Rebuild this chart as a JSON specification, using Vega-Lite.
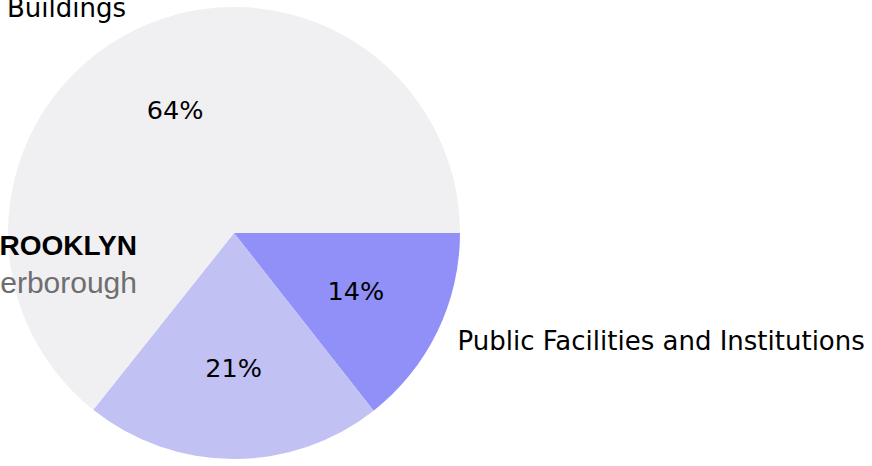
{
  "$schema": "https://vega.github.io/schema/vega-lite/v6.json",
  "width": 468,
  "height": 466,
  "autosize": {"type": "none"},
  "padding": {"left": 0, "top": 0, "right": 404, "bottom": 0},
  "background": "white",
  "config": {"view": {"stroke": null}},
  "title": {
    "text": "BROOKLYN",
    "subtitle": "erborough",
    "anchor": "start",
    "frame": "group",
    "align": "right",
    "dx": 137,
    "dy": 303,
    "offset": 0,
    "font": "Liberation Sans",
    "fontSize": 28,
    "fontWeight": "bold",
    "color": "#000000",
    "subtitleFont": "Liberation Sans",
    "subtitleFontSize": 30,
    "subtitleColor": "#6e6e6e",
    "subtitlePadding": 8
  },
  "data": {
    "values": [
      {"category": "Public Facilities and Institutions", "share": 0.144, "order": 1},
      {"category": "Unlabelled", "share": 0.213, "order": 2},
      {"category": "Buildings", "share": 0.643, "order": 3}
    ]
  },
  "encoding": {
    "theta": {"field": "share", "type": "quantitative", "stack": true, "scale": {"range": [1.5708, 7.854]}},
    "order": {"field": "order", "type": "ordinal"}
  },
  "layer": [
    {
      "mark": {"type": "arc", "outerRadius": 226},
      "encoding": {
        "color": {
          "field": "category",
          "type": "nominal",
          "scale": {
            "domain": ["Public Facilities and Institutions", "Unlabelled", "Buildings"],
            "range": ["#9090f8", "#c1c1f4", "#f0f0f2"]
          },
          "legend": null
        }
      }
    },
    {
      "mark": {"type": "text", "radius": 135.6, "font": "DejaVu Sans", "fontSize": 25.5, "color": "#000000", "align": "center", "baseline": "middle"},
      "encoding": {"text": {"field": "share", "type": "quantitative", "format": ".0%"}}
    },
    {
      "mark": {"type": "text", "radius": 248.6, "font": "DejaVu Sans", "fontSize": 26, "color": "#000000", "align": "right", "baseline": "middle"},
      "encoding": {"text": {"condition": {"test": "datum.category == 'Buildings'", "field": "category"}, "value": ""}}
    },
    {
      "mark": {"type": "text", "radius": 248.6, "font": "DejaVu Sans", "fontSize": 26, "color": "#000000", "align": "left", "baseline": "middle"},
      "encoding": {"text": {"condition": {"test": "datum.category == 'Public Facilities and Institutions'", "field": "category"}, "value": ""}}
    }
  ]
}
